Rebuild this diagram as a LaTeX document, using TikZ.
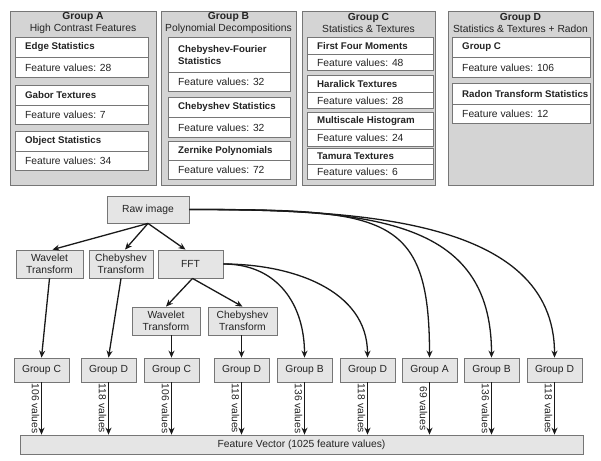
\documentclass[tikz,border=0pt]{standalone}
\usepackage{fontspec}
\setmainfont{Liberation Sans}
\usetikzlibrary{arrows.meta}
\definecolor{grpfill}{RGB}{212,212,212}
\definecolor{boxfill}{RGB}{229,229,229}
\definecolor{bordercol}{RGB}{118,118,118}
\definecolor{linecol}{RGB}{25,25,25}
\definecolor{txtcol}{RGB}{35,35,35}
\newcommand\featcell[8]{%
  \node[cell, minimum width=#6pt, minimum height=\the\numexpr#4-#3\relax pt] (#1h) at (#2,-#3) {};
  \node[hdrtext] (#1ht) at ([xshift=10pt]#1h.west) {#7};
  \node[cell, minimum width=#6pt, minimum height=\the\numexpr#5-#4\relax pt] (#1v) at (#2,-#4) {};
  \node[valtext] (#1vt) at ([xshift=10pt]#1v.west) {Feature values: #8};
}
\begin{document}
\begin{tikzpicture}[x=1pt,y=1pt,
  every node/.style={font=\fontsize{10.3}{12}\selectfont, text=txtcol},
  grp/.style={draw=bordercol, fill=grpfill, line width=0.8pt, inner sep=0pt},
  cell/.style={draw=bordercol, fill=white, line width=0.8pt, inner sep=0pt, anchor=north west},
  hdrtext/.style={anchor=west, font=\bfseries\fontsize{9.7}{12.5}\selectfont, inner sep=0pt, align=left},
  valtext/.style={anchor=west, inner sep=0pt},
  proc/.style={draw=bordercol, fill=boxfill, line width=0.8pt, inner sep=0pt, align=center},
  gbox/.style={proc, minimum width=55pt, minimum height=24pt},
  arr/.style={draw=linecol, line width=1.3pt, -{Stealth[length=7pt,width=6pt]}},
  vals/.style={rotate=-90, anchor=north, inner sep=1.5pt}
]
\useasboundingbox (0,0) rectangle (601,-460);

% ---------- top groups ----------
\node[grp, minimum width=146pt, minimum height=174pt] (gA) at (83,-98) {};
\node[align=center] (tA) at (83,-23) {\textbf{Group A}\\High Contrast Features};
\featcell{a1}{15}{37}{57}{77}{133}{Edge Statistics}{28}
\featcell{a2}{15}{85}{105}{124}{133}{Gabor Textures}{7}
\featcell{a3}{15}{131}{151}{170}{133}{Object Statistics}{34}

\node[grp, minimum width=135pt, minimum height=174pt] (gB) at (228.5,-98) {};
\node[align=center] (tB) at (228.5,-23) {\textbf{Group B}\\Polynomial Decompositions};
\featcell{b1}{168}{37}{72}{91}{122}{Chebyshev-Fourier\\Statistics}{32}
\featcell{b2}{168}{97}{117}{137}{122}{Chebyshev Statistics}{32}
\featcell{b3}{168}{141}{160}{179}{122}{Zernike Polynomials}{72}

\node[grp, minimum width=133pt, minimum height=174pt] (gC) at (368.5,-98) {};
\node[align=center] (tC) at (368.5,-23) {\textbf{Group C}\\Statistics \& Textures};
\featcell{c1}{307}{37}{54}{70}{126}{First Four Moments}{48}
\featcell{c2}{307}{75}{92}{108}{126}{Haralick Textures}{28}
\featcell{c3}{307}{112}{129}{146}{126}{Multiscale Histogram}{24}
\featcell{c4}{307}{148}{164}{179}{126}{Tamura Textures}{6}

\node[grp, minimum width=145pt, minimum height=174pt] (gD) at (520.5,-98) {};
\node[align=center] (tD) at (520.5,-23) {\textbf{Group D}\\Statistics \& Textures + Radon};
\featcell{d1}{452}{37}{57}{77}{138}{Group C}{106}
\featcell{d2}{452}{83}{104}{123}{138}{Radon Transform Statistics}{12}

% ---------- processing tree ----------
\node[proc, minimum width=82pt, minimum height=27pt] (raw) at (148,-209.5) {Raw image};
\node[proc, minimum width=67pt, minimum height=28pt] (wav) at (49.5,-264) {Wavelet\\Transform};
\node[proc, minimum width=64pt, minimum height=28pt] (cheb) at (121,-264) {Chebyshev\\Transform};
\node[proc, minimum width=65pt, minimum height=28pt] (fft) at (190.5,-264) {FFT};
\node[proc, minimum width=68pt, minimum height=28pt] (wav2) at (166,-321) {Wavelet\\Transform};
\node[proc, minimum width=69pt, minimum height=28pt] (cheb2) at (242.5,-321) {Chebyshev\\Transform};

\node[gbox] (g1) at (41.5,-370) {Group C};
\node[gbox] (g2) at (108.5,-370) {Group D};
\node[gbox] (g3) at (171.5,-370) {Group C};
\node[gbox] (g4) at (241.5,-370) {Group D};
\node[gbox] (g5) at (304.5,-370) {Group B};
\node[gbox] (g6) at (367.5,-370) {Group D};
\node[gbox] (g7) at (429.5,-370) {Group A};
\node[gbox] (g8) at (491.5,-370) {Group B};
\node[gbox] (g9) at (554.5,-370) {Group D};

\node[proc, minimum width=563pt, minimum height=19pt] (fv) at (301.5,-444.5) {Feature Vector (1025 feature values)};

\draw[arr] (raw.south) -- ([xshift=3pt]wav.north);
\draw[arr] (raw.south) -- ([xshift=4pt]cheb.north);
\draw[arr] (raw.south) -- ([xshift=-5pt]fft.north);
\draw[arr] ([xshift=2pt]fft.south) -- (wav2.north);
\draw[arr] ([xshift=2pt]fft.south) -- (cheb2.north);
\draw[arr] (wav.south) -- (g1.north);
\draw[arr] (cheb.south) -- (g2.north);
\draw[arr] (wav2.south -| g3.north) -- (g3.north);
\draw[arr] (cheb2.south -| g4.north) -- (g4.north);
\draw[arr] (fft.east) .. controls +(55,0) and +(0,52) .. (g5.north);
\draw[arr] (fft.east) .. controls +(68,0) and +(0,68) .. (g6.north);
\draw[arr] (raw.east) .. controls +(195,0) and +(0,145) .. (g7.north);
\draw[arr] (raw.east) .. controls +(180,0) and +(0,140) .. (g8.north);
\draw[arr] (raw.east) .. controls +(165,0) and +(0,140) .. (g9.north);

\foreach \g/\v in {g1/106,g2/118,g3/106,g4/118,g5/136,g6/118,g7/69,g8/136,g9/118}
  \draw[arr] (\g.south) -- (\g.south |- fv.north) node[vals, midway] (l\g) {\v\ values};
\end{tikzpicture}
\end{document}
